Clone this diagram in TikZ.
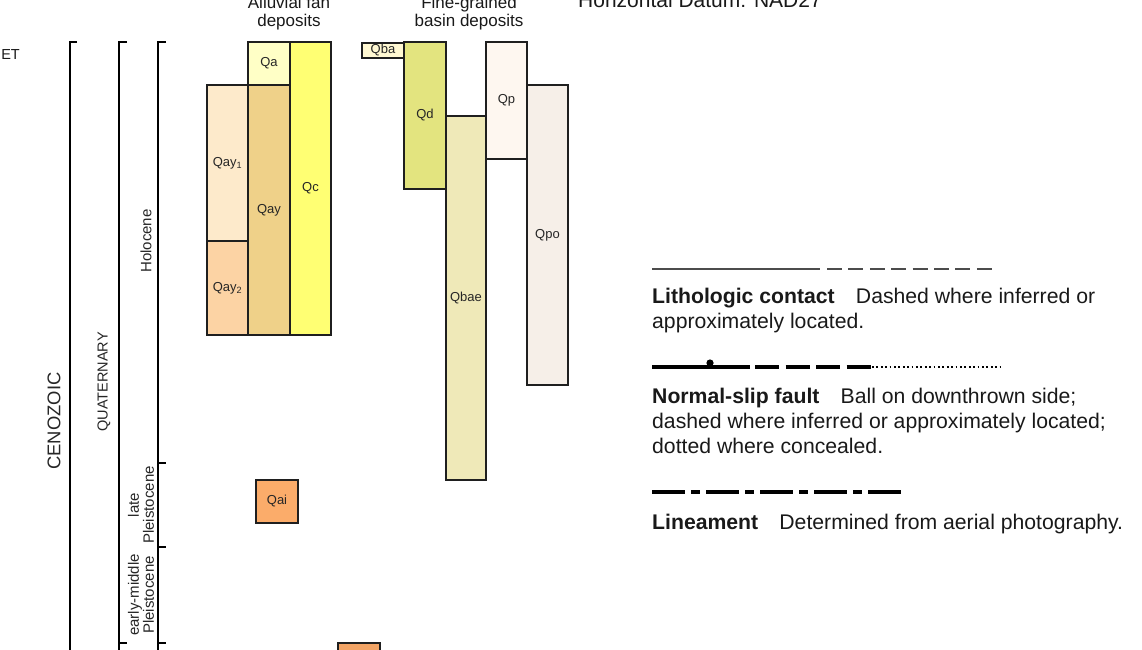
\documentclass[tikz,border=0pt]{standalone}
\usepackage{fontspec}
\setmainfont{Liberation Sans}
\definecolor{cQa}{HTML}{FFFFC6}
\definecolor{cQc}{HTML}{FFFF73}
\definecolor{cQayA}{HTML}{FDEACB}
\definecolor{cQayB}{HTML}{FCD3A4}
\definecolor{cQay}{HTML}{EFD189}
\definecolor{cQai}{HTML}{FBAC6A}
\definecolor{cQba}{HTML}{FFF8D2}
\definecolor{cQd}{HTML}{E3E47F}
\definecolor{cQbae}{HTML}{EFE9B8}
\definecolor{cQp}{HTML}{FEF7F0}
\definecolor{cQpo}{HTML}{F6EFE8}
\definecolor{cLow}{HTML}{F2A465}
\tikzset{
  unit/.style={draw=black!88, line width=2pt, inner sep=0pt,
    font=\fontsize{13}{15}\selectfont, text=black!85},
  bracketline/.style={line width=2.2pt, black},
  rottext/.style={rotate=90, inner sep=0pt, align=center, text=black!85},
  legtext/.style={anchor=base west, inner sep=0pt, align=left,
    font=\fontsize{21.2}{25}\selectfont, text=black!90},
  head/.style={anchor=base, inner sep=0pt, align=center,
    font=\fontsize{17}{18}\selectfont, text=black!90},
  contactline/.style={line width=1.1pt, black!70},
  faultline/.style={line width=3.2pt, black},
  linline/.style={line width=3.2pt, black, dash pattern=on 33pt off 6pt on 9pt off 6pt}
}
\begin{document}
\begin{tikzpicture}[x=1pt,y=-1pt]
\useasboundingbox (0,0) rectangle (1142,649);
\clip (0,0) rectangle (1142,649);

% headings (anchor base = baseline of the last line)
\node[head] (hAll) at (289,26) {Alluvial fan\\deposits};
\node[head] (hFine) at (469,26) {Fine-grained\\basin deposits};
\node[anchor=base west, inner sep=0pt, font=\fontsize{21}{25}\selectfont, text=black!90] (hDat) at (578,7) {Horizontal Datum: NAD27};
\node[anchor=base east, inner sep=0pt, font=\fontsize{14.5}{16}\selectfont, text=black!90] (hEt) at (20,59) {ET};

% brackets
\draw[bracketline] (77,42) -- (70,42) -- (70,650);
\draw[bracketline] (127,42) -- (119,42) -- (119,650);
\draw[bracketline] (119,643) -- (127,643);
\draw[bracketline] (166,42) -- (158,42) -- (158,650);
\draw[bracketline] (158,463) -- (166,463);
\draw[bracketline] (158,547) -- (166,547);
\draw[bracketline] (158,643) -- (166,643);

% rotated labels
\node[rottext, font=\fontsize{18.4}{20}\selectfont] (tCen) at (54,421) {CENOZOIC};
\node[rottext, font=\fontsize{14.5}{16}\selectfont] (tQuat) at (104,382) {QUATERNARY};
\node[rottext, font=\fontsize{15}{15}\selectfont] (tHol) at (146,241) {Holocene};
\node[rottext, font=\fontsize{15}{15}\selectfont] (tLate) at (141,505) {late\\Pleistocene};
\node[rottext, font=\fontsize{15}{15}\selectfont] (tEarly) at (141,595) {early-middle\\Pleistocene};

% alluvial fan units
\node[unit, fill=cQa, minimum width=42, minimum height=43] (qa) at (269,63.5) {Qa};
\node[unit, fill=cQc, minimum width=41, minimum height=293] (qc) at (310.5,188.5) {Qc};
\node[unit, fill=cQayA, minimum width=41, minimum height=156] (qay1) at (227.5,163) {Qay\textsubscript{1}};
\node[unit, fill=cQayB, minimum width=41, minimum height=94] (qay2) at (227.5,288) {Qay\textsubscript{2}};
\node[unit, fill=cQay, minimum width=42, minimum height=250] (qay) at (269,210) {Qay};
\node[unit, fill=cQai, minimum width=42, minimum height=43] (qai) at (277,501.5) {Qai};
\node[unit, fill=cLow, minimum width=42, minimum height=43] (qlow) at (359,664.5) {};

% fine-grained basin units
\node[unit, fill=cQba, minimum width=42, minimum height=15] (qba) at (383,50.5) {Qba};
\node[unit, fill=cQd, minimum width=42, minimum height=147] (qd) at (425,115.5) {Qd};
\node[unit, fill=cQbae, minimum width=40, minimum height=364] (qbae) at (466,298) {Qbae};
\node[unit, fill=cQp, minimum width=41, minimum height=117] (qp) at (506.5,100.5) {Qp};
\node[unit, fill=cQpo, minimum width=41, minimum height=300] (qpo) at (547.5,235) {Qpo};

% legend: lithologic contact
\coordinate (c1a) at (652,269);
\coordinate (c1b) at (820,269);
\coordinate (c1c) at (827,269);
\coordinate (c1d) at (992,269);
\draw[contactline] (c1a) -- (c1b);
\draw[contactline, dash pattern=on 15pt off 6.4pt] (c1c) -- (c1d);
\node[legtext] (lLith) at (652,328) {\textbf{Lithologic contact}\quad Dashed where inferred or\\approximately located.};

% legend: normal-slip fault
\coordinate (f1a) at (652,367);
\coordinate (f1b) at (750,367);
\coordinate (f1c) at (755,367);
\coordinate (f1d) at (872,367);
\coordinate (f1e) at (1002,367);
\coordinate (fball) at (710,363);
\draw[faultline] (f1a) -- (f1b);
\fill[black] (fball) circle (3.6);
\draw[faultline, dash pattern=on 24pt off 6.5pt] (f1c) -- (f1d);
\draw[line width=2pt, black, dash pattern=on 1.8pt off 2.6pt] (f1d) -- (f1e);
\node[legtext] (lFault) at (652,453) {\textbf{Normal-slip fault}\quad Ball on downthrown side;\\dashed where inferred or approximately located;\\dotted where concealed.};

% legend: lineament
\coordinate (l1a) at (652,492);
\coordinate (l1b) at (903,492);
\draw[linline] (l1a) -- (l1b);
\node[legtext] (lLin) at (652,529) {\textbf{Lineament}\quad Determined from aerial photography.};
\end{tikzpicture}
\end{document}
